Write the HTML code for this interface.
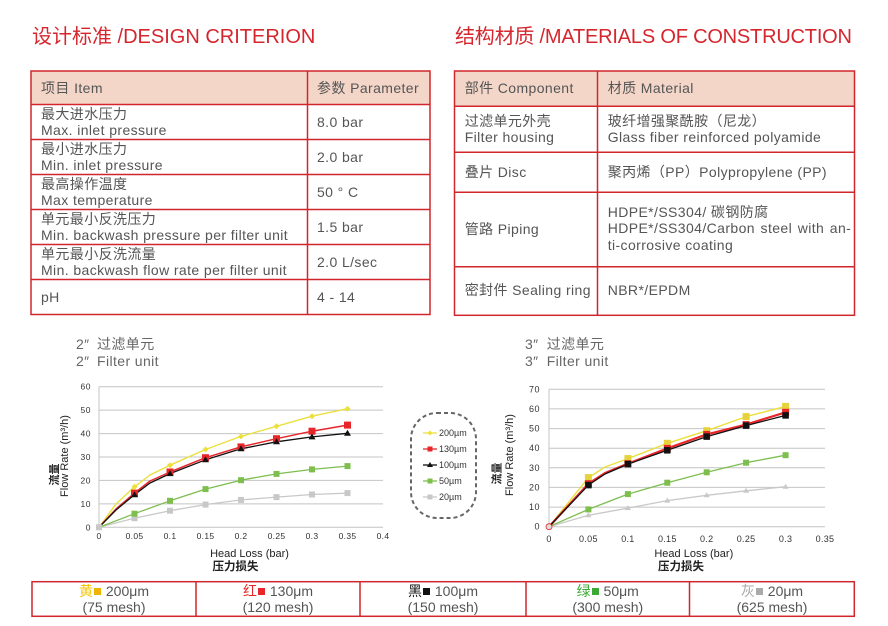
<!DOCTYPE html>
<html><head><meta charset="utf-8">
<style>
html,body{margin:0;padding:0;background:#fff;}
body{width:888px;height:626px;position:relative;overflow:hidden;font-family:"Liberation Sans","Noto Sans CJK SC",sans-serif;color:#555;}
.a{position:absolute;white-space:nowrap;}
.t{font-size:14px;line-height:16px;letter-spacing:0.4px;}
.title{font-size:20px;color:#d6262d;line-height:24px;}
.sq{display:inline-block;width:7px;height:7px;margin:0 1px 0 1px;vertical-align:1px;}
.cell{position:absolute;top:583px;height:32px;text-align:center;font-size:14px;line-height:16px;color:#555;}
</style></head><body>

<div class="a title" style="left:32px;top:25px;">设计标准 /DESIGN CRITERION</div>
<div class="a title" style="left:455px;top:25px;letter-spacing:-0.2px;">结构材质 /MATERIALS OF CONSTRUCTION</div>

<svg class="a" style="left:0;top:0" width="888" height="626" xmlns="http://www.w3.org/2000/svg">
  <!-- table 1 -->
  <rect x="31" y="71" width="399" height="33.5" fill="#f4d6c9"/>
  <g stroke="#d0262c" stroke-width="1.5" fill="none">
    <rect x="31" y="71" width="399" height="243.5"/>
    <line x1="307.5" y1="71" x2="307.5" y2="314.5"/>
    <line x1="31" y1="104.5" x2="430" y2="104.5"/>
    <line x1="31" y1="139.5" x2="430" y2="139.5"/>
    <line x1="31" y1="174.5" x2="430" y2="174.5"/>
    <line x1="31" y1="209.5" x2="430" y2="209.5"/>
    <line x1="31" y1="244.5" x2="430" y2="244.5"/>
    <line x1="31" y1="279.5" x2="430" y2="279.5"/>
  </g>
  <!-- table 2 -->
  <rect x="454.5" y="71" width="400" height="35.3" fill="#f4d6c9"/>
  <g stroke="#d0262c" stroke-width="1.5" fill="none">
    <rect x="454.5" y="71" width="400" height="244.3"/>
    <line x1="597.5" y1="71" x2="597.5" y2="315.3"/>
    <line x1="454.5" y1="106.3" x2="854.5" y2="106.3"/>
    <line x1="454.5" y1="152.3" x2="854.5" y2="152.3"/>
    <line x1="454.5" y1="192.3" x2="854.5" y2="192.3"/>
    <line x1="454.5" y1="266.7" x2="854.5" y2="266.7"/>
  </g>
  <!-- bottom table -->
  <g stroke="#d0262c" stroke-width="1.5" fill="none">
    <rect x="32" y="581.7" width="822.3" height="34.6"/>
    <line x1="196" y1="581.7" x2="196" y2="616.3"/>
    <line x1="360" y1="581.7" x2="360" y2="616.3"/>
    <line x1="526" y1="581.7" x2="526" y2="616.3"/>
    <line x1="689.5" y1="581.7" x2="689.5" y2="616.3"/>
  </g>

  <!-- LEFT CHART -->
  <g stroke="#c4c4c4" stroke-width="1">
    <line x1="99" y1="386.7" x2="383" y2="386.7"/>
    <line x1="99" y1="410.1" x2="383" y2="410.1"/>
    <line x1="99" y1="433.6" x2="383" y2="433.6"/>
    <line x1="99" y1="457" x2="383" y2="457"/>
    <line x1="99" y1="480.4" x2="383" y2="480.4"/>
    <line x1="99" y1="503.9" x2="383" y2="503.9"/>
    <line x1="99" y1="527.3" x2="383" y2="527.3"/>
    <line x1="99" y1="386.7" x2="99" y2="527.3"/>
  </g>
  <g font-family="Liberation Sans, sans-serif" font-size="8.5" fill="#333" text-anchor="end" dominant-baseline="central" letter-spacing="0.5">
    <text x="91" y="386.7">60</text><text x="91" y="410.1">50</text><text x="91" y="433.6">40</text>
    <text x="91" y="457">30</text><text x="91" y="480.4">20</text><text x="91" y="503.9">10</text><text x="91" y="527.3">0</text>
  </g>
  <g font-family="Liberation Sans, sans-serif" font-size="8.5" fill="#333" text-anchor="middle" dominant-baseline="central" letter-spacing="0.3">
    <text x="99" y="536">0</text><text x="134.5" y="536">0.05</text><text x="170" y="536">0.1</text><text x="205.5" y="536">0.15</text>
    <text x="241" y="536">0.2</text><text x="276.5" y="536">0.25</text><text x="312" y="536">0.3</text><text x="347.5" y="536">0.35</text><text x="383" y="536">0.4</text>
  </g>
  <g fill="none" stroke-linejoin="round" stroke-linecap="round">
    <polyline stroke="#c8c8c8" stroke-width="1.3" points="99,527.3 134.5,518.2 170,510.7 205.5,504.6 241,499.9 276.5,497.1 312,494.5 347.5,493.1"/>
    <polyline stroke="#7dbe4e" stroke-width="1.3" points="99,527.3 134.5,513.7 170,500.8 205.5,489.1 241,480.2 276.5,473.9 312,469.4 347.5,466.1"/>
    <polyline stroke="#ebe03c" stroke-width="1.4" points="99,527.3 116,504 134.5,486.8 150,475 170,465.2 205.5,449.5 241,436.4 276.5,426.3 312,416.2 347.5,408.7"/>
    <polyline stroke="#e8262a" stroke-width="1.5" points="99,527.3 116,509 134.5,493.1 150,481 170,472 205.5,457.7 241,446.9 276.5,438.7 312,431.2 347.5,425.1"/>
    <polyline stroke="#111" stroke-width="1.3" points="99,527.3 116,510 134.5,494.7 150,483 170,473.6 205.5,459.8 241,448.8 276.5,441.8 312,436.9 347.5,433.3"/>
  </g>
  <g fill="#c8c8c8">
    <rect x="96" y="524.3" width="6" height="6"/><rect x="131.5" y="515.2" width="6" height="6"/><rect x="167" y="507.7" width="6" height="6"/>
    <rect x="202.5" y="501.6" width="6" height="6"/><rect x="238" y="496.9" width="6" height="6"/><rect x="273.5" y="494.1" width="6" height="6"/>
    <rect x="309" y="491.5" width="6" height="6"/><rect x="344.5" y="490.1" width="6" height="6"/>
  </g>
  <g fill="#7dbe4e">
    <rect x="131.5" y="510.7" width="6" height="6"/><rect x="167" y="497.8" width="6" height="6"/><rect x="202.5" y="486.1" width="6" height="6"/>
    <rect x="238" y="477.2" width="6" height="6"/><rect x="273.5" y="470.9" width="6" height="6"/><rect x="309" y="466.4" width="6" height="6"/><rect x="344.5" y="463.1" width="6" height="6"/>
  </g>
  <g fill="#ebe03c">
    <polygon points="134.5,483.8 137.5,486.8 134.5,489.8 131.5,486.8"/>
    <polygon points="170,462.2 173,465.2 170,468.2 167,465.2"/>
    <polygon points="205.5,446.5 208.5,449.5 205.5,452.5 202.5,449.5"/>
    <polygon points="241,433.4 244,436.4 241,439.4 238,436.4"/>
    <polygon points="276.5,423.3 279.5,426.3 276.5,429.3 273.5,426.3"/>
    <polygon points="312,413.2 315,416.2 312,419.2 309,416.2"/>
    <polygon points="347.5,405.7 350.5,408.7 347.5,411.7 344.5,408.7"/>
  </g>
  <g fill="#e8262a">
    <rect x="131" y="489.6" width="7" height="7"/><rect x="166.5" y="468.5" width="7" height="7"/><rect x="202" y="454.2" width="7" height="7"/>
    <rect x="237.5" y="443.4" width="7" height="7"/><rect x="273" y="435.2" width="7" height="7"/><rect x="308.5" y="427.7" width="7" height="7"/><rect x="344" y="421.6" width="7" height="7"/>
  </g>
  <g fill="#111">
    <polygon points="134.5,491.2 138,497.2 131,497.2"/><polygon points="170,470.1 173.5,476.1 166.5,476.1"/>
    <polygon points="205.5,456.3 209,462.3 202,462.3"/><polygon points="241,445.3 244.5,451.3 237.5,451.3"/>
    <polygon points="276.5,438.3 280,444.3 273,444.3"/><polygon points="312,433.4 315.5,439.4 308.5,439.4"/>
    <polygon points="347.5,429.8 351,435.8 344,435.8"/>
  </g>
  <g font-family="Liberation Sans, Noto Sans CJK SC, sans-serif" fill="#222" font-size="11">
    <text transform="translate(65,456) rotate(-90)" text-anchor="middle" dominant-baseline="central">Flow Rate (m³/h)</text>
    <text transform="translate(55,474.5) rotate(-90)" text-anchor="middle" dominant-baseline="central" font-weight="bold">流量</text>
    <text x="249.5" y="554" text-anchor="middle" dominant-baseline="central">Head Loss (bar)</text>
    <text x="235.5" y="567" text-anchor="middle" dominant-baseline="central" font-weight="bold" font-size="11.5">压力损失</text>
  </g>

  <!-- LEGEND -->
  <rect x="411" y="413" width="65" height="105" rx="26" ry="26" fill="none" stroke="#666" stroke-width="2" stroke-dasharray="4 3"/>
  <g stroke-width="1.3">
    <line x1="423" y1="433" x2="437" y2="433" stroke="#ebe03c"/>
    <line x1="423" y1="449" x2="437" y2="449" stroke="#e8262a"/>
    <line x1="423" y1="465" x2="437" y2="465" stroke="#111"/>
    <line x1="423" y1="481" x2="437" y2="481" stroke="#7dbe4e"/>
    <line x1="423" y1="497" x2="437" y2="497" stroke="#c8c8c8"/>
  </g>
  <polygon points="430,430.5 432.5,433 430,435.5 427.5,433" fill="#ebe03c"/>
  <rect x="427.5" y="446.5" width="5" height="5" fill="#e8262a"/>
  <polygon points="430,462 433,467 427,467" fill="#111"/>
  <rect x="427.5" y="478.5" width="5" height="5" fill="#7dbe4e"/>
  <rect x="427.5" y="494.5" width="5" height="5" fill="#c8c8c8"/>
  <g font-family="Liberation Sans, sans-serif" font-size="9" fill="#333" dominant-baseline="central">
    <text x="439" y="433">200µm</text><text x="439" y="449">130µm</text><text x="439" y="465">100µm</text>
    <text x="439" y="481">50µm</text><text x="439" y="497">20µm</text>
  </g>

  <!-- RIGHT CHART -->
  <g stroke="#c4c4c4" stroke-width="1">
    <line x1="549" y1="389.3" x2="825" y2="389.3"/>
    <line x1="549" y1="408.9" x2="825" y2="408.9"/>
    <line x1="549" y1="428.6" x2="825" y2="428.6"/>
    <line x1="549" y1="448.2" x2="825" y2="448.2"/>
    <line x1="549" y1="467.8" x2="825" y2="467.8"/>
    <line x1="549" y1="487.4" x2="825" y2="487.4"/>
    <line x1="549" y1="507.1" x2="825" y2="507.1"/>
    <line x1="549" y1="526.7" x2="825" y2="526.7"/>
    <line x1="549" y1="389.3" x2="549" y2="526.7"/>
  </g>
  <g font-family="Liberation Sans, sans-serif" font-size="9" fill="#333" text-anchor="end" dominant-baseline="central" letter-spacing="0.5">
    <text x="540" y="389.3">70</text><text x="540" y="408.9">60</text><text x="540" y="428.6">50</text><text x="540" y="448.2">40</text>
    <text x="540" y="467.8">30</text><text x="540" y="487.4">20</text><text x="540" y="507.1">10</text><text x="540" y="526.7">0</text>
  </g>
  <g font-family="Liberation Sans, sans-serif" font-size="9" fill="#333" text-anchor="middle" dominant-baseline="central" letter-spacing="0.3">
    <text x="549" y="539">0</text><text x="588.4" y="539">0.05</text><text x="627.9" y="539">0.1</text><text x="667.3" y="539">0.15</text>
    <text x="706.7" y="539">0.2</text><text x="746.1" y="539">0.25</text><text x="785.6" y="539">0.3</text><text x="825" y="539">0.35</text>
  </g>
  <g fill="none" stroke-linejoin="round" stroke-linecap="round">
    <polyline stroke="#c8c8c8" stroke-width="1.3" points="549,526.7 588.4,515.3 627.9,508.1 667.3,500.6 706.7,495.3 746.1,490.8 785.6,486.7"/>
    <polyline stroke="#7dbe4e" stroke-width="1.3" points="549,526.7 588.4,509.4 627.9,494.1 667.3,482.7 706.7,472.3 746.1,462.7 785.6,455.2"/>
    <polyline stroke="#ebe03c" stroke-width="1.4" points="549,526.7 588.4,477.6 605,467 627.9,458.6 667.3,443.3 706.7,430.7 746.1,416.6 785.6,406.4"/>
    <polyline stroke="#e8262a" stroke-width="2.2" points="549,526.7 588.4,483.7 605,473 627.9,463.7 667.3,448.4 706.7,434.4 746.1,424.6 785.6,412.3"/>
    <polyline stroke="#111" stroke-width="1.3" points="549,526.7 588.4,485.1 605,474 627.9,464.1 667.3,450.3 706.7,436.6 746.1,425.6 785.6,415.4"/>
  </g>
  <g fill="#c8c8c8">
    <polygon points="588.4,512.3 591.4,517.3 585.4,517.3"/><polygon points="627.9,505.1 630.9,510.1 624.9,510.1"/>
    <polygon points="667.3,497.6 670.3,502.6 664.3,502.6"/><polygon points="706.7,492.3 709.7,497.3 703.7,497.3"/>
    <polygon points="746.1,487.8 749.1,492.8 743.1,492.8"/><polygon points="785.6,483.7 788.6,488.7 782.6,488.7"/>
  </g>
  <g fill="#7dbe4e">
    <rect x="585.4" y="506.4" width="6" height="6"/><rect x="624.9" y="491.1" width="6" height="6"/><rect x="664.3" y="479.7" width="6" height="6"/>
    <rect x="703.7" y="469.3" width="6" height="6"/><rect x="743.1" y="459.7" width="6" height="6"/><rect x="782.6" y="452.2" width="6" height="6"/>
  </g>
  <g fill="#e6d23a">
    <rect x="584.9" y="474.1" width="7" height="7"/><rect x="624.4" y="455.1" width="7" height="7"/><rect x="663.8" y="439.8" width="7" height="7"/>
    <rect x="703.2" y="427.2" width="7" height="7"/><rect x="742.6" y="413.1" width="7" height="7"/><rect x="782.1" y="402.9" width="7" height="7"/>
  </g>
  <g fill="#e8262a">
    <rect x="584.9" y="480.2" width="7" height="7"/><rect x="624.4" y="460.2" width="7" height="7"/><rect x="663.8" y="444.9" width="7" height="7"/>
    <rect x="703.2" y="430.9" width="7" height="7"/><rect x="742.6" y="421.1" width="7" height="7"/><rect x="782.1" y="408.8" width="7" height="7"/>
  </g>
  <g fill="#111">
    <rect x="585.15" y="481.85" width="6.5" height="6.5"/><rect x="624.65" y="460.85" width="6.5" height="6.5"/><rect x="664.05" y="447.05" width="6.5" height="6.5"/>
    <rect x="703.45" y="433.35" width="6.5" height="6.5"/><rect x="742.85" y="422.35" width="6.5" height="6.5"/><rect x="782.35" y="412.15" width="6.5" height="6.5"/>
  </g>
  <circle cx="549" cy="526.7" r="3" fill="#ddd" stroke="#e8262a" stroke-width="0.8"/>
  <g font-family="Liberation Sans, Noto Sans CJK SC, sans-serif" fill="#222" font-size="11">
    <text transform="translate(510,455) rotate(-90)" text-anchor="middle" dominant-baseline="central">Flow Rate (m³/h)</text>
    <text transform="translate(497.7,473.5) rotate(-90)" text-anchor="middle" dominant-baseline="central" font-weight="bold">流量</text>
    <text x="693.8" y="554" text-anchor="middle" dominant-baseline="central">Head Loss (bar)</text>
    <text x="681" y="567" text-anchor="middle" dominant-baseline="central" font-weight="bold" font-size="11.5">压力损失</text>
  </g>
</svg>

<!-- table 1 text -->
<div class="a t" style="left:41px;top:79.7px;">项目 Item</div>
<div class="a t" style="left:317px;top:79.7px;">参数 Parameter</div>

<div class="a t" style="left:41px;top:106px;">最大进水压力<br>Max. inlet pressure</div>
<div class="a t" style="left:317px;top:114px;">8.0 bar</div>
<div class="a t" style="left:41px;top:141px;">最小进水压力<br>Min. inlet pressure</div>
<div class="a t" style="left:317px;top:149px;">2.0 bar</div>
<div class="a t" style="left:41px;top:176px;">最高操作温度<br>Max temperature</div>
<div class="a t" style="left:317px;top:184px;">50 ° C</div>
<div class="a t" style="left:41px;top:211px;">单元最小反洗压力<br>Min. backwash pressure per filter unit</div>
<div class="a t" style="left:317px;top:219px;">1.5 bar</div>
<div class="a t" style="left:41px;top:246px;">单元最小反洗流量<br>Min. backwash flow rate per filter unit</div>
<div class="a t" style="left:317px;top:254px;">2.0 L/sec</div>
<div class="a t" style="left:41px;top:289px;">pH</div>
<div class="a t" style="left:317px;top:289px;">4 - 14</div>

<!-- table 2 text -->
<div class="a t" style="left:464.7px;top:79.7px;">部件 Component</div>
<div class="a t" style="left:607.7px;top:79.7px;">材质 Material</div>
<div class="a t" style="left:464.7px;top:112.7px;">过滤单元外壳<br>Filter housing</div>
<div class="a t" style="left:607.7px;top:112.7px;">玻纤增强聚酰胺（尼龙）<br>Glass fiber reinforced polyamide</div>
<div class="a t" style="left:464.7px;top:164px;">叠片 Disc</div>
<div class="a t" style="left:607.7px;top:164px;">聚丙烯（PP）Polypropylene (PP)</div>
<div class="a t" style="left:464.7px;top:221.3px;">管路 Piping</div>
<div class="a t" style="left:607.7px;top:203.7px;line-height:16.6px;">HDPE*/SS304/ 碳钢防腐<br><span style="word-spacing:1.3px;">HDPE*/SS304/Carbon steel with an-</span><br>ti-corrosive coating</div>
<div class="a t" style="left:464.7px;top:282px;">密封件 Sealing ring</div>
<div class="a t" style="left:607.7px;top:282px;">NBR*/EPDM</div>

<!-- chart titles -->
<div class="a t" style="left:76px;top:336px;line-height:16.7px;color:#666;">2″<br>2″</div>
<div class="a t" style="left:97px;top:336px;line-height:16.7px;color:#666;">过滤单元<br>Filter unit</div>
<div class="a t" style="left:525px;top:336px;line-height:16.7px;color:#666;">3″<br>3″</div>
<div class="a t" style="left:546.7px;top:336px;line-height:16.7px;color:#666;">过滤单元<br>Filter unit</div>

<!-- bottom table text -->
<div class="cell" style="left:32px;width:164px;"><span style="color:#f5c400">黄</span><span class="sq" style="background:#f0b400"></span> 200μm<br>(75 mesh)</div>
<div class="cell" style="left:196px;width:164px;"><span style="color:#e8262a">红</span><span class="sq" style="background:#e8262a"></span> 130μm<br>(120 mesh)</div>
<div class="cell" style="left:360px;width:166px;"><span style="color:#111">黑</span><span class="sq" style="background:#111"></span> 100μm<br>(150 mesh)</div>
<div class="cell" style="left:526px;width:163.5px;"><span style="color:#3aaa35">绿</span><span class="sq" style="background:#3aaa35"></span> 50μm<br>(300 mesh)</div>
<div class="cell" style="left:689.5px;width:165px;"><span style="color:#aaa">灰</span><span class="sq" style="background:#aaa"></span> 20μm<br>(625 mesh)</div>

</body></html>
